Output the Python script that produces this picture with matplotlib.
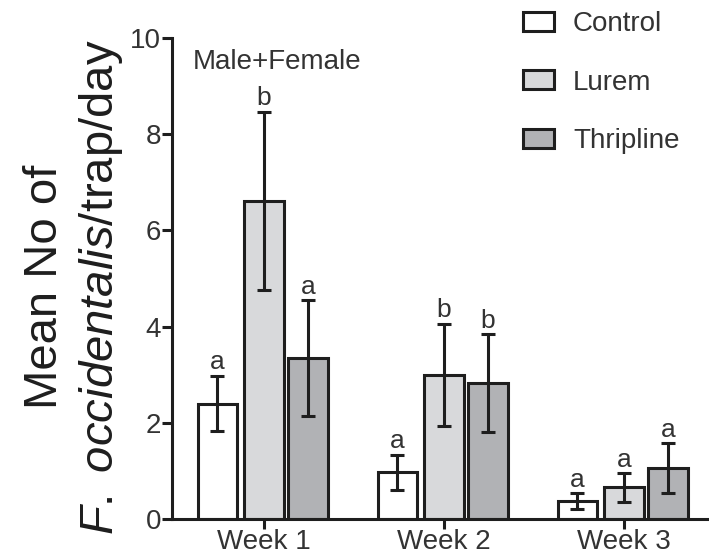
import numpy as np
import matplotlib
matplotlib.use('Agg')
import matplotlib.pyplot as plt

plt.rcParams['font.family'] = ['Liberation Sans', 'DejaVu Sans']
plt.rcParams['mathtext.fontset'] = 'custom'
plt.rcParams['mathtext.it'] = 'Liberation Sans:italic'
plt.rcParams['mathtext.rm'] = 'Liberation Sans'

# data
weeks = ['Week 1', 'Week 2', 'Week 3']
treatments = ['Control', 'Lurem', 'Thripline']
means = {
    'Control':   [2.40, 0.97, 0.37],
    'Lurem':     [6.62, 3.00, 0.66],
    'Thripline': [3.35, 2.83, 1.06],
}
errs = {
    'Control':   [0.58, 0.37, 0.17],
    'Lurem':     [1.85, 1.06, 0.30],
    'Thripline': [1.20, 1.02, 0.51],
}
letters = {
    'Control':   ['a', 'a', 'a'],
    'Lurem':     ['b', 'b', 'a'],
    'Thripline': ['a', 'b', 'a'],
}
colors = {'Control': '#ffffff', 'Lurem': '#d8d9db', 'Thripline': '#b1b2b5'}

ink = '#1e1e1e'
txt = '#333333'
offsets = [-0.26, 0.0, 0.245]
width = 0.218

fig = plt.figure(figsize=(7.09, 5.60), dpi=100)
ax = fig.add_axes([172/709, 1-519/560, 1-172/709, (519-38)/560])

x = np.arange(len(weeks))
bars = []
for t, off in zip(treatments, offsets):
    b = ax.bar(x + off, means[t], width, color=colors[t], edgecolor=ink,
               linewidth=2.2, zorder=2, label=t)
    bars.append(b)
    ax.errorbar(x + off, means[t], yerr=errs[t], fmt='none', ecolor=ink,
                elinewidth=2.2, capsize=5.2, capthick=2.2, zorder=3)
    for xi, m, e, l in zip(x + off, means[t], errs[t], letters[t]):
        ax.annotate(l, (xi, m + e), xytext=(0, 4.5), textcoords='offset points',
                    ha='center', va='baseline', fontsize=19, color=txt)

ax.set_xlim(-0.511, -0.511 + 537/180)
ax.set_ylim(0, 10)
ax.set_yticks([0, 2, 4, 6, 8, 10])
ax.set_xticks(x)
ax.set_xticklabels(weeks)
for s in ['top', 'right']:
    ax.spines[s].set_visible(False)
for s in ['left', 'bottom']:
    ax.spines[s].set_linewidth(2.2)
    ax.spines[s].set_color(ink)
ax.tick_params(axis='both', length=7, width=2.2, color=ink, labelcolor=txt,
               labelsize=20)
ax.tick_params(axis='y', pad=1)
ax.tick_params(axis='x', pad=0.5)

ax.text(193/709, 1-69/560, 'Male+Female', transform=fig.transFigure,
        fontsize=20, color=txt, ha='left', va='baseline')

# two line y label, second line partly italic
fig.text(57/709, 1-287/560, 'Mean No of', rotation=90, rotation_mode='anchor',
         ha='center', va='baseline', fontsize=34, color=ink)
fig.text(113/709, 1-287/560, r'$\mathit{F.}$ $\mathit{occidentalis}$/trap/day',
         rotation=90, rotation_mode='anchor', ha='center', va='baseline',
         fontsize=34, color=ink)

leg = fig.legend(handles=bars, labels=treatments, loc='upper left',
                 bbox_to_anchor=(523/709, 1-11/560), frameon=False, fontsize=20,
                 handlelength=1.1, handleheight=0.65, handletextpad=0.7,
                 labelspacing=1.17, borderpad=0, borderaxespad=0)
for tx in leg.get_texts():
    tx.set_color(txt)

plt.savefig('out.png', dpi=100)
